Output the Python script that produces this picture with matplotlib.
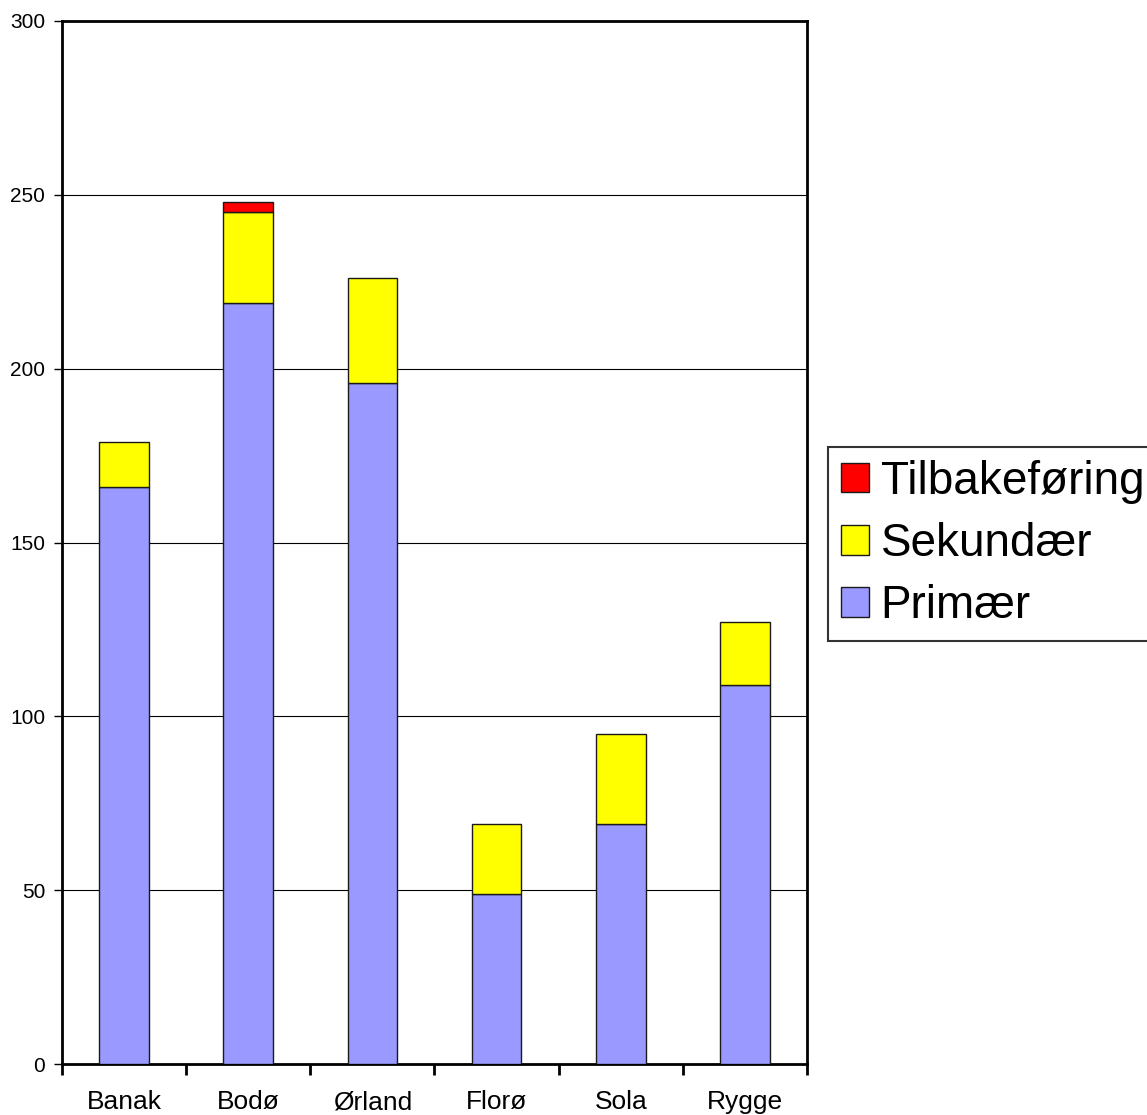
import matplotlib
matplotlib.use("Agg")
import matplotlib.pyplot as plt
import numpy as np

plt.rcParams['font.family'] = ['Liberation Sans', 'DejaVu Sans']

stations = ["Banak", "Bodø", "Ørland", "Florø", "Sola", "Rygge"]
primaer = [166, 219, 196, 49, 69, 109]
sekundaer = [13, 26, 30, 20, 26, 18]
tilbakeforing = [0, 3, 0, 0, 0, 0]

y_ticks = [0, 50, 100, 150, 200, 250, 300]

fig = plt.figure(figsize=(11.47, 11.15), dpi=100)
ax = fig.add_axes([62 / 1147, 51 / 1115, 745 / 1147, 1043 / 1115])

x = np.arange(len(stations))
w = 0.4
edge = dict(edgecolor="#1a1a1a", linewidth=1.0)
b1 = ax.bar(x, primaer, w, color="#9999FF", label="Primær", zorder=3, **edge)
bottom2 = np.array(primaer)
b2 = ax.bar(x, sekundaer, w, bottom=bottom2, color="#FFFF00", label="Sekundær", zorder=3, **edge)
bottom3 = bottom2 + np.array(sekundaer)
mask = np.array(tilbakeforing) > 0
b3 = ax.bar(x[mask], np.array(tilbakeforing)[mask], w, bottom=bottom3[mask],
            color="#FF0000", label="Tilbakeføring", zorder=3, **edge)

ax.set_xlim(-0.5, len(stations) - 0.5)
ax.set_ylim(0, 300)
ax.set_yticks(y_ticks)
ax.set_yticklabels([str(v) for v in y_ticks], fontsize=15)
ax.yaxis.grid(True, color="#000000", linewidth=0.8, zorder=0)

ax.set_xticks(x)
ax.set_xticklabels(stations, fontsize=19)
ax.tick_params(axis="x", length=0, pad=32.4)
for lbl in ax.get_xticklabels():
    lbl.set_verticalalignment("baseline")
ax.set_xticks(np.arange(len(stations) + 1) - 0.5, minor=True)
ax.tick_params(axis="x", which="minor", length=8, width=2, direction="out")
ax.tick_params(axis="y", length=6, width=1, direction="out", pad=6)

for s in ax.spines.values():
    s.set_linewidth(2)
    s.set_color("#000000")

leg = fig.legend(handles=[b3, b2, b1], labels=["Tilbakeføring", "Sekundær", "Primær"],
                 loc="center left", bbox_to_anchor=(828 / 1147, 1 - 544 / 1115),
                 fontsize=33, frameon=True, fancybox=False, edgecolor="#000000",
                 handlelength=0.62, handleheight=0.62, handletextpad=0.25,
                 labelspacing=0.4, borderpad=0.28, borderaxespad=0)
leg.get_frame().set_linewidth(1.5)

fig.savefig("out.png", dpi=100)
